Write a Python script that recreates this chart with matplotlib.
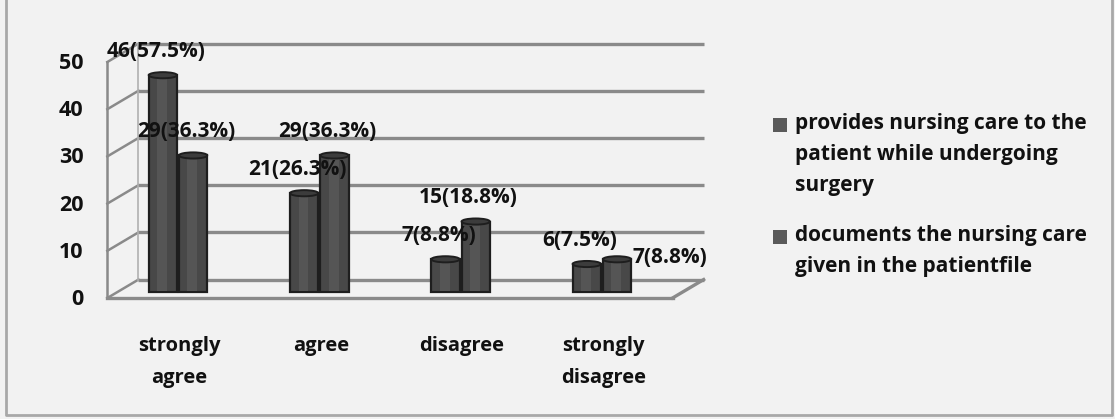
import matplotlib
matplotlib.use("Agg")
import matplotlib.pyplot as plt
from matplotlib.patches import Ellipse, Rectangle
from matplotlib.lines import Line2D
from matplotlib.transforms import blended_transform_factory
import numpy as np

# ---- data ----
categories = ["strongly\nagree", "agree", "disagree", "strongly\ndisagree"]
series_names = [
    "provides nursing care to the\npatient while undergoing\nsurgery",
    "documents the nursing care\ngiven in the patientfile",
]
provides_care = [46, 21, 7, 6]
documents_care = [29, 29, 15, 7]
provides_pct = [57.5, 26.3, 8.8, 7.5]
documents_pct = [36.3, 36.3, 18.8, 8.8]
y_ticks = [0, 10, 20, 30, 40, 50]

FONT = "Open Sans"
FS_TICK, FS_VAL, FS_CAT, FS_LEG = 15.5, 15, 14.5, 15
TXT = "#111111"
W, H = 1115, 419
fig = plt.figure(figsize=(W / 100, H / 100), dpi=100)
fig.patch.set_facecolor("#f2f2f2")

# one axes over the whole canvas; x in category units, y in value units
ax = fig.add_axes([0, 0, 1, 1])
px_per_cat, px_per_val = 141.3, 4.72
x0_px, y0_px = 178, 298
ax.set_xlim(-x0_px / px_per_cat, (W - x0_px) / px_per_cat)
ax.set_ylim((y0_px - H) / px_per_val, y0_px / px_per_val)
ax.axis("off")

# pseudo-3D frame: back wall offset
dx, dy = 0.22, 3.9
left, right = -0.5, 3.5
grid_col = "#8a8a8a"
for v in y_ticks:
    ax.plot([left + dx, right + dx], [v + dy, v + dy], color=grid_col, lw=2.4,
            solid_capstyle="butt", zorder=1)
    ax.plot([left, left + dx], [v, v + dy], color=grid_col, lw=1.8, zorder=1)
ax.plot([left, left], [0, y_ticks[-1]], color=grid_col, lw=1.8, zorder=1)
ax.plot([left + dx, left + dx], [dy, y_ticks[-1] + dy], color="#b0b0b0", lw=1.2, zorder=1)
ax.plot([left, right], [0, 0], color=grid_col, lw=2.4, zorder=1)
ax.plot([right, right + dx], [0, dy], color=grid_col, lw=2.4, zorder=1)

for v in y_ticks:
    ax.text(left - 0.17, v - 0.3, str(v), ha="right", va="center", fontsize=FS_TICK,
            fontweight="bold", family=FONT, color=TXT)

# cylinders
x = np.arange(len(categories))
bw, off, base = 0.2, 0.107, 1.2
cap_h = 1.3
face, edge = "#484848", "#1e1e1e"
for k, vals in enumerate([provides_care, documents_care]):
    xs = x + (-off if k == 0 else off)
    bars = ax.bar(xs, vals, width=bw, bottom=base, color=face, edgecolor=edge,
                  linewidth=1.6, zorder=3)
    for b in bars:
        bx = b.get_x()
        top = b.get_y() + b.get_height()
        ax.add_patch(Rectangle((bx + bw * 0.3, b.get_y() + 0.3), bw * 0.35,
                               b.get_height() - 0.6, color="#555555", lw=0, zorder=3.1))
        ax.add_patch(Ellipse((bx + bw / 2, top), bw, cap_h, facecolor="#3c3c3c",
                             edgecolor=edge, lw=1.4, zorder=3.2))

# value labels
for k, (vals, pcts) in enumerate([(provides_care, provides_pct),
                                  (documents_care, documents_pct)]):
    for i, (v, p) in enumerate(zip(vals, pcts)):
        cx = i + (-off if k == 0 else off)
        lx, ly, ha = cx - 0.05, base + v + 5.0, "center"
        if k == 1 and i == len(vals) - 1:
            lx, ly = cx + 0.11, base + v + 0.3
            ha = "left"
        ax.text(lx, ly, f"{v}({p}%)", ha=ha, va="center", fontsize=FS_VAL,
                fontweight="bold", family=FONT, color=TXT, zorder=5)

# category labels, centred under each group
cat_tr = blended_transform_factory(ax.transData, fig.transFigure)
for i, lab in enumerate(categories):
    ax.text(x[i] + 0.01, 1 - 336 / H, lab, transform=cat_tr, ha="center", va="top",
            fontsize=FS_CAT, fontweight="bold", family=FONT, color=TXT,
            linespacing=1.8)

# legend
leg_y = [125, 237]
for name, yy in zip(series_names, leg_y):
    fig.patches.append(Rectangle((773 / W, 1 - (yy + 7) / H), 14 / W, 14 / H,
                                 transform=fig.transFigure, facecolor="#5a5a5a",
                                 edgecolor="none"))
    fig.text(795 / W, 1 - (yy - 12) / H, name, ha="left", va="top", fontsize=FS_LEG,
             fontweight="bold", family=FONT, color=TXT, linespacing=1.62)

# outer frame (left, bottom, right)
fx = [6 / W, 6 / W, 1112 / W, 1112 / W]
fy = [1.0, 4 / H, 4 / H, 1.0]
fig.add_artist(Line2D(fx, fy, transform=fig.transFigure, color="#a8a8a8", lw=2))

fig.savefig("out.png", dpi=100, facecolor=fig.get_facecolor())
